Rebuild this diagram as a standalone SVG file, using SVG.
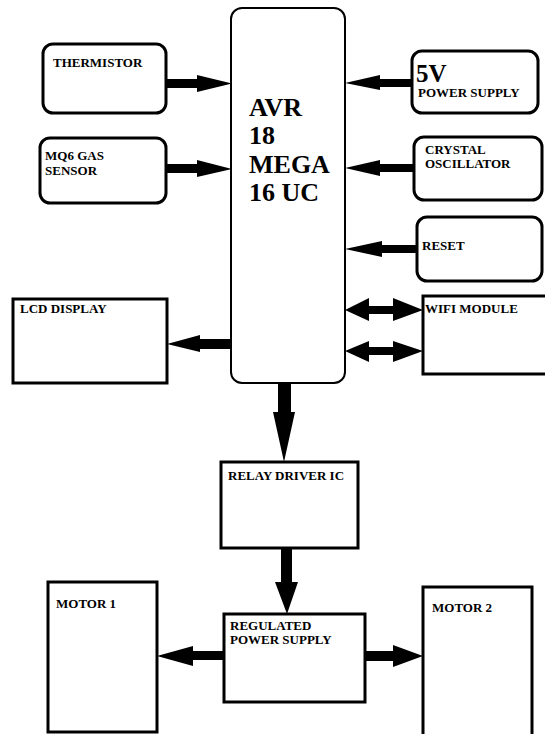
<svg xmlns="http://www.w3.org/2000/svg" width="545" height="734" viewBox="0 0 545 734">
<style>
  .rb { fill: #fff; stroke: #000; stroke-width: 3; }
  .mb { fill: #fff; stroke: #000; stroke-width: 2; }
  text { font-family: 'Liberation Serif', 'DejaVu Serif', serif; font-weight: bold; fill: #000; }
  .t { font-size: 13px; }
  .big { font-size: 26px; }
  .arr { fill: #000; stroke: none; }
</style>
<rect width="545" height="734" fill="#fff"/>

<g id="connectors">
  <polygon class="arr" points="166,79 197,79 197,75 232,83.5 197,92 197,88 166,88"/>
  <polygon class="arr" points="166,164 197,164 197,160 232,169 197,177 197,173 166,173"/>
  <polygon class="arr" points="412,79 380,79 380,75 345,83 380,90 380,87 412,87"/>
  <polygon class="arr" points="414,164 380,164 380,160 345,168 380,176 380,172 414,172"/>
  <polygon class="arr" points="417,245 382,245 382,241 345,249 382,257 382,253 417,253"/>
  <polygon class="arr" points="345,310 369,298 369,306 393,306 393,298 423,310 393,321 393,314 369,314 369,321"/>
  <polygon class="arr" points="345,351 369,341 369,347 393,347 393,341 423,351 393,362 393,355 369,355 369,362"/>
  <polygon class="arr" points="231,339 200,339 200,335 167,344 200,352 200,349 231,349"/>
  <polygon class="arr" points="278,383 291,383 291,412 295,412 284,462 273,412 278,412"/>
  <polygon class="arr" points="281,548 292,548 292,582 298,582 287,614 275,582 281,582"/>
  <polygon class="arr" points="224,651 193,651 193,646 157,656 193,666 193,660 224,660"/>
  <polygon class="arr" points="365,651 393,651 393,645 423,656 393,667 393,661 365,661"/>
</g>

<g id="avr">
  <rect class="mb" x="231" y="8" width="114" height="375" rx="11"/>
  <text class="big" x="249" y="116">AVR</text>
  <text class="big" x="249" y="144">18</text>
  <text class="big" x="249" y="173">MEGA</text>
  <text class="big" x="249" y="201">16 UC</text>
</g>

<g id="thermistor">
  <rect class="rb" x="43" y="44" width="123" height="69" rx="10"/>
  <text class="t" x="53" y="67">THERMISTOR</text>
</g>

<g id="mq6">
  <rect class="rb" x="40" y="138" width="126" height="65" rx="10"/>
  <text class="t" x="45" y="160">MQ6 GAS</text>
  <text class="t" x="45" y="175">SENSOR</text>
</g>

<g id="power5v">
  <rect class="rb" x="412" y="51" width="126" height="62" rx="10"/>
  <text x="416" y="82" style="font-size:25px">5V</text>
  <text class="t" x="418" y="97">POWER SUPPLY</text>
</g>

<g id="crystal">
  <rect class="rb" x="414" y="137" width="128" height="63" rx="10"/>
  <text class="t" x="425" y="154">CRYSTAL</text>
  <text class="t" x="425" y="168">OSCILLATOR</text>
</g>

<g id="reset">
  <rect class="rb" x="417" y="217" width="125" height="64" rx="10"/>
  <text class="t" x="422" y="250">RESET</text>
</g>

<g id="wifi">
  <rect class="rb" x="423" y="296" width="125" height="78"/>
  <text class="t" x="425" y="313">WIFI MODULE</text>
</g>

<g id="lcd">
  <rect class="rb" x="13" y="299" width="154" height="84"/>
  <text class="t" x="20" y="313">LCD DISPLAY</text>
</g>

<g id="relay">
  <rect class="rb" x="221" y="462" width="137" height="86"/>
  <text class="t" x="228" y="480">RELAY DRIVER IC</text>
</g>

<g id="regulated">
  <rect class="rb" x="224" y="614" width="141" height="88"/>
  <text class="t" x="230" y="630">REGULATED</text>
  <text class="t" x="230" y="644">POWER SUPPLY</text>
</g>

<g id="motor1">
  <rect class="rb" x="48" y="582" width="109" height="150"/>
  <text class="t" x="56" y="608">MOTOR 1</text>
</g>

<g id="motor2">
  <rect class="rb" x="423" y="587" width="109" height="150"/>
  <text class="t" x="432" y="612">MOTOR 2</text>
</g>
</svg>
